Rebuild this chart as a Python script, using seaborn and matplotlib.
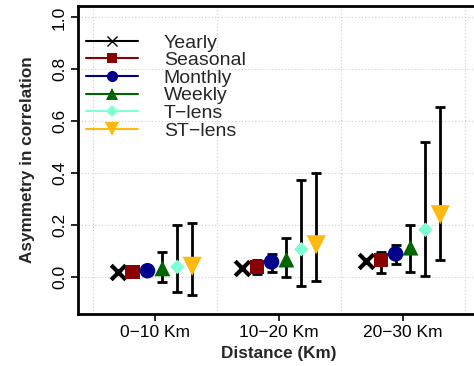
import numpy as np
import pandas as pd
import matplotlib
matplotlib.use("Agg")
import matplotlib.pyplot as plt
from matplotlib.lines import Line2D
import seaborn as sns

# ── data ──
GROUPS = ["0\u221210 Km", "10\u221220 Km", "20\u221230 Km"]
SERIES = ["Yearly", "Seasonal", "Monthly", "Weekly", "T\u2212lens", "ST\u2212lens"]

YEARLY   = [0.020, 0.035, 0.061]
SEASONAL = [0.017, 0.037, 0.065]
MONTHLY  = [0.023, 0.057, 0.088]
WEEKLY   = [0.032, 0.066, 0.112]
T_LENS   = [0.038, 0.106, 0.181]
ST_LENS  = [0.040, 0.123, 0.239]

YEARLY_LO,   YEARLY_HI   = [np.nan] * 3, [np.nan] * 3
SEASONAL_LO, SEASONAL_HI = [0.010, 0.009, 0.013], [0.025, 0.063, 0.096]
MONTHLY_LO,  MONTHLY_HI  = [0.013, 0.019, 0.048], [0.033, 0.089, 0.123]
WEEKLY_LO,   WEEKLY_HI   = [-0.019, -0.003, 0.017], [0.095, 0.151, 0.199]
T_LENS_LO,   T_LENS_HI   = [-0.060, -0.034, 0.004], [0.200, 0.374, 0.520]
ST_LENS_LO,  ST_LENS_HI  = [-0.069, -0.017, 0.065], [0.206, 0.400, 0.656]

# ── styling ──
COLORS  = ["black", "#8B0000", "#00008B", "#006400", "#7FFFD4", "#FFB90F"]
MARKERS = ["x", "s", "o", "^", "D", "v"]
SIZES   = [110, 105, 125, 130, 55, 190]
LEG_MS  = [7, 7.5, 8, 8.5, 6, 9.5]
OFFSETS = [-0.3, -0.18, -0.06, 0.06, 0.18, 0.3]

values = [YEARLY, SEASONAL, MONTHLY, WEEKLY, T_LENS, ST_LENS]
lows   = [YEARLY_LO, SEASONAL_LO, MONTHLY_LO, WEEKLY_LO, T_LENS_LO, ST_LENS_LO]
highs  = [YEARLY_HI, SEASONAL_HI, MONTHLY_HI, WEEKLY_HI, T_LENS_HI, ST_LENS_HI]

rows = []
for s, name in enumerate(SERIES):
    for g, grp in enumerate(GROUPS):
        rows.append({"series": name, "group": grp,
                     "x": g + 1 + OFFSETS[s],
                     "value": values[s][g], "low": lows[s][g], "high": highs[s][g]})
df = pd.DataFrame(rows)

sns.set_theme(style="white")
plt.rcParams["font.family"] = ["Liberation Sans", "DejaVu Sans"]

fig = plt.figure(figsize=(4.74, 3.66), dpi=100)
ax = fig.add_axes([0.1646, 0.142, 0.848, 0.8416])

# grid
for gx in [0.5, 1.5, 2.5, 3.5]:
    ax.axvline(gx, color="#cccccc", lw=0.8, ls=(0, (1, 2)), zorder=0)
for gy in np.arange(0, 1.01, 0.2):
    ax.axhline(gy, color="#cccccc", lw=0.8, ls=(0, (1, 2)), zorder=0)

# error bars
eb = df.dropna(subset=["low"])
ax.errorbar(eb["x"], eb["value"],
            yerr=[eb["value"] - eb["low"], eb["high"] - eb["value"]],
            fmt="none", ecolor="black", elinewidth=2, capsize=3.5,
            capthick=2, zorder=2)

# markers
for s, name in enumerate(SERIES):
    sub = df[df["series"] == name]
    kw = {"linewidth": 3} if MARKERS[s] == "x" else {"edgecolor": "none"}
    sns.scatterplot(data=sub, x="x", y="value", ax=ax, color=COLORS[s],
                    marker=MARKERS[s], s=SIZES[s], zorder=3, legend=False, **kw)

ax.set_xlim(0.38, 3.62)
ax.set_ylim(-0.144, 1.044)
ax.set_xticks([1, 2, 3])
ax.set_xticklabels(GROUPS)
ax.set_yticks(np.arange(0, 1.01, 0.2))
ax.set_yticklabels([f"{v:.1f}" for v in np.arange(0, 1.01, 0.2)],
                   rotation=90, va="center")
ax.tick_params(axis="both", direction="out", length=5, width=1.2,
               labelsize=12.5, colors="black", pad=3,
               bottom=True, left=True)
for sp in ax.spines.values():
    sp.set_color("black")
    sp.set_linewidth(2)

ax.set_xlabel("Distance (Km)", fontsize=12.3, fontweight="bold", labelpad=4)
ax.set_ylabel("Asymmetry in correlation", fontsize=12.3, fontweight="bold",
              labelpad=12)

# legend
handles = []
for s, name in enumerate(SERIES):
    line_alpha = 1.0 if s == 0 else 0.65
    h = Line2D([0], [0], color=COLORS[s], lw=1.5, alpha=line_alpha,
               marker=MARKERS[s], markersize=LEG_MS[s],
               markerfacecolor=COLORS[s], markeredgecolor=COLORS[s],
               markeredgewidth=1 if MARKERS[s] == "x" else 0)
    handles.append(h)
leg = ax.legend(handles, SERIES, loc="upper left",
                bbox_to_anchor=(86 / 474, 1 - 34 / 366),
                bbox_transform=fig.transFigure, frameon=False,
                fontsize=14, handlelength=2.65, handletextpad=1.35,
                labelspacing=0.0, borderpad=0, borderaxespad=0)
for lh in leg.legend_handles:
    lh.set_alpha(None)

fig.savefig("out.png", dpi=100)
